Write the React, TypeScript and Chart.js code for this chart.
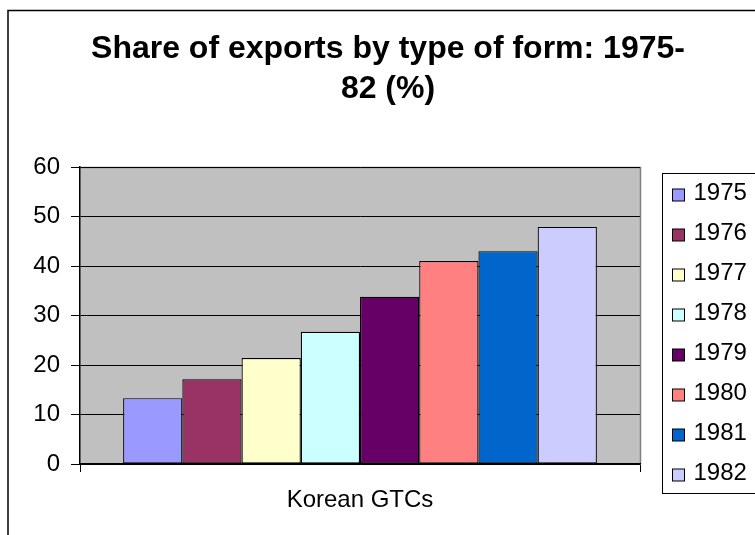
import React, { useEffect, useRef } from 'react';
import { Chart, registerables } from 'chart.js';

Chart.register(...registerables);

// ---- data ----
const categories = ['Korean GTCs'];
const years = ['1975', '1976', '1977', '1978', '1979', '1980', '1981', '1982'];
const shares = [13.3, 17.1, 21.4, 26.7, 33.8, 41.0, 43.0, 47.9];
const barColors = ['#9999FF', '#993366', '#FFFFCC', '#CCFFFF', '#660066', '#FF8080', '#0066CC', '#CCCCFF'];
const titleLines = ['Share of exports by type of form: 1975-', '82 (%)'];
const yMin = 0;
const yMax = 60;
const yStep = 10;

// ---- layout ----
const W = 776;
const H = 560;
const FONT = '"Liberation Sans", Arial, Helvetica, sans-serif';

const framePlugin = {
  id: 'framePlugin',
  beforeDraw(chart: any) {
    const { ctx, chartArea: a } = chart;
    ctx.save();
    ctx.fillStyle = '#ffffff';
    ctx.fillRect(0, 0, chart.width, chart.height);
    // outer chart border (right/bottom edges fall outside the view)
    ctx.strokeStyle = '#000000';
    ctx.lineWidth = 1.5;
    ctx.strokeRect(8, 10.5, chart.width + 40, chart.height + 40);
    // plot area
    ctx.fillStyle = '#C0C0C0';
    ctx.fillRect(a.left, a.top, a.right - a.left, a.bottom - a.top);
    ctx.strokeStyle = '#808080';
    ctx.lineWidth = 1.5;
    ctx.beginPath();
    ctx.moveTo(a.left, a.top + 0.5);
    ctx.lineTo(a.right + 0.5, a.top + 0.5);
    ctx.lineTo(a.right + 0.5, a.bottom);
    ctx.stroke();
    ctx.restore();
  },
};

const legendPlugin = {
  id: 'boxLegend',
  afterDraw(chart: any) {
    const { ctx, chartArea: a } = chart;
    const left = a.right + 22.5;
    const top = a.top + 6.5;
    const rowH = 40;
    const n = chart.data.datasets.length;
    const bottom = top + rowH * n;
    ctx.save();
    ctx.strokeStyle = '#000000';
    ctx.lineWidth = 1;
    ctx.strokeRect(left, top, chart.width, bottom - top);
    ctx.font = `24px ${FONT}`;
    ctx.textBaseline = 'middle';
    ctx.textAlign = 'left';
    chart.data.datasets.forEach((ds: any, i: number) => {
      const cy = top + 19.5 + i * rowH;
      ctx.fillStyle = ds.backgroundColor;
      ctx.fillRect(left + 10, cy - 4, 12, 12);
      ctx.strokeStyle = '#000000';
      ctx.strokeRect(left + 10, cy - 4, 12, 12);
      ctx.fillStyle = '#000000';
      ctx.fillText(ds.label, left + 31, cy);
    });
    ctx.restore();
  },
};

export default function App() {
  const ref = useRef<HTMLCanvasElement | null>(null);

  useEffect(() => {
    if (!ref.current) return;
    const chart = new Chart(ref.current, {
      type: 'bar',
      data: {
        labels: categories,
        datasets: years.map((y, i) => ({
          label: y,
          data: [shares[i]],
          backgroundColor: barColors[i],
          borderColor: '#000000',
          borderWidth: 1.2,
          borderSkipped: false,
          categoryPercentage: 0.846,
          barPercentage: 1,
        })),
      },
      options: {
        responsive: false,
        animation: false,
        devicePixelRatio: 1,
        layout: { padding: 0 },
        plugins: {
          legend: { display: false },
          tooltip: { enabled: false },
          title: {
            display: true,
            text: titleLines,
            color: '#000000',
            font: { family: FONT, size: 32, weight: 'bold', lineHeight: 40 / 32 },
            padding: { top: 29.5, bottom: 57.5 },
          },
        },
        scales: {
          x: {
            grid: {
              display: true,
              drawOnChartArea: false,
              drawTicks: true,
              tickLength: 8,
              color: '#000000',
              offset: true,
            },
            border: { display: true, color: '#000000', width: 1.5 },
            ticks: {
              color: '#000000',
              font: { family: FONT, size: 24 },
              padding: 14,
            },
            afterFit: (s: any) => {
              s.height = 96;
            },
          },
          y: {
            min: yMin,
            max: yMax,
            ticks: {
              stepSize: yStep,
              color: '#000000',
              font: { family: FONT, size: 24 },
              padding: 11,
            },
            grid: {
              color: '#000000',
              lineWidth: 1,
              drawTicks: true,
              tickLength: 9,
            },
            border: { display: true, color: '#000000', width: 1.5 },
            afterFit: (s: any) => {
              s.width = 80;
            },
          },
          legendSpace: {
            type: 'linear',
            position: 'right',
            display: true,
            grid: { display: false, drawTicks: false },
            border: { display: false },
            ticks: { display: false },
            afterFit: (s: any) => {
              s.width = W - 640;
            },
          },
        },
      },
      plugins: [framePlugin, legendPlugin],
    } as any);
    return () => chart.destroy();
  }, []);

  return (
    <div
      style={{
        position: 'fixed',
        left: 0,
        top: 0,
        width: 755,
        height: 535,
        overflow: 'hidden',
        background: '#fff',
      }}
    >
      <canvas ref={ref} width={W} height={H} style={{ width: W, height: H, display: 'block' }} />
    </div>
  );
}
